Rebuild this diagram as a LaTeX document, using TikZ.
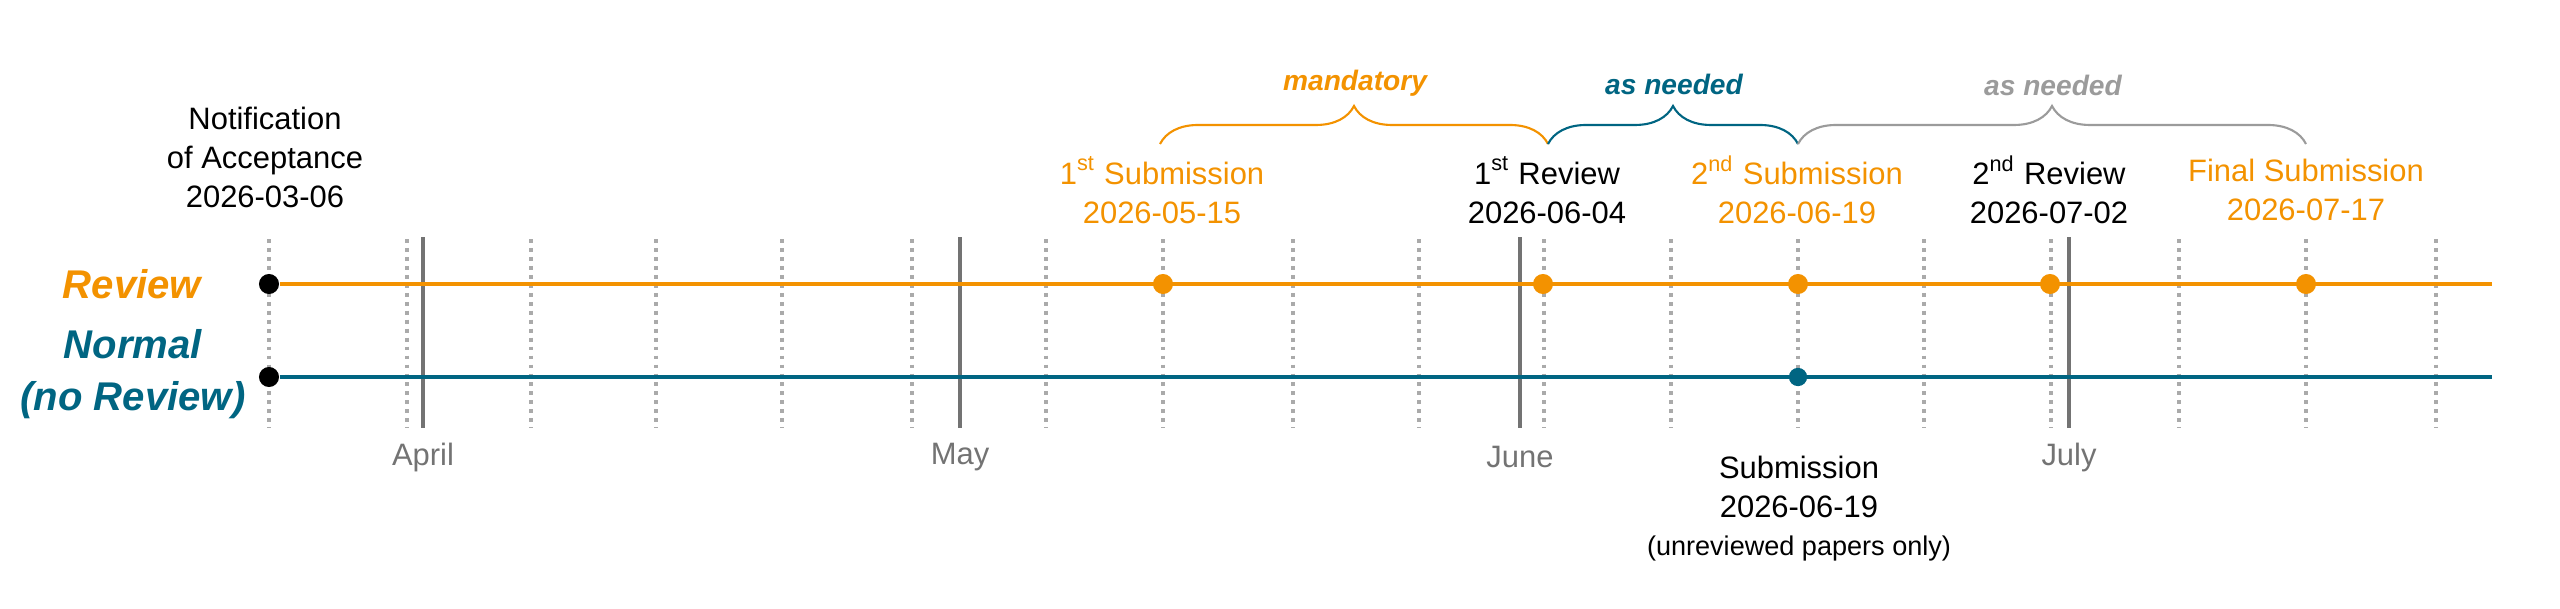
\documentclass[tikz,border=0pt]{standalone}
\usepackage{fontspec}
\setmainfont{Liberation Sans}
\usetikzlibrary{decorations.pathreplacing}

\definecolor{revorange}{RGB}{243,146,0}
\definecolor{normteal}{RGB}{0,101,130}
\definecolor{monthgray}{RGB}{115,115,115}
\definecolor{weekgray}{RGB}{170,170,170}
\definecolor{bracegray}{RGB}{155,155,155}

\tikzset{
  weekline/.style={weekgray, line width=1.1pt, dash pattern=on 1.1pt off 1.45pt},
  monthline/.style={monthgray, line width=1.15pt},
  trackline/.style={line width=1.3pt},
  evdot/.style={circle, fill, inner sep=0pt, minimum size=5.7pt},
  evtext/.style={align=center, font=\fontsize{8.8}{11.1}\selectfont},
  monthtext/.style={monthgray, font=\fontsize{8.8}{11}\selectfont},
  rowtext/.style={align=center, font=\fontsize{11.4}{14.8}\selectfont\bfseries\itshape},
  bracetext/.style={font=\fontsize{8}{10}\selectfont\bfseries\itshape},
  span/.style={line width=0.6pt, decorate, decoration={brace, amplitude=3.8mm}}
}

\begin{document}
\begin{tikzpicture}[x=0.01cm, y=-0.01cm]
    \useasboundingbox (0,0) rectangle (2560,609);

    % weeks and months
    \foreach \wx in {269,407,531,656,782,912,1046,1163,1293,1419,1544,1671,1798,1924,2051,2179,2306,2436}
        \draw[weekline] (\wx,239) -- (\wx,428);
    \foreach \mx/\mname in {423/April,960/May,1520/June,2069/July} {
        \draw[monthline] (\mx,237) -- (\mx,428);
        \node[monthtext] (m\mname) at (\mx,457) {\mname};
    }

    % the two tracks
    \node[rowtext, revorange] (review) at (132,284) {Review};
    \node[rowtext, normteal] (normal) at (133,374) {Normal\\(no Review)};

    \node[evdot, black] (startR) at (269,284) {};
    \node[evdot, black] (startN) at (269,377) {};
    \coordinate (endR) at (2492,284);
    \coordinate (endN) at (2492,377);

    \draw[trackline, revorange] (startR) -- (endR);
    \draw[trackline, normteal] (startN) -- (endN);

    \node[evdot, revorange] (sub1) at (1163,284) {};
    \node[evdot, revorange] (rev1) at (1543,284) {};
    \node[evdot, revorange] (sub2) at (1798,284) {};
    \node[evdot, revorange] (rev2) at (2050,284) {};
    \node[evdot, revorange] (final) at (2306,284) {};
    \node[evdot, normteal, minimum size=5.2pt] (subN) at (1798,377) {};

    % labels
    \node[evtext] (notif) at (265,157) {Notification\\of Acceptance\\2026-03-06};
    \node[evtext, revorange] (sub1txt) at (1162,190) {1\textsuperscript{st} Submission\\2026-05-15};
    \node[evtext] (rev1txt) at (1547,190) {1\textsuperscript{st} Review\\2026-06-04};
    \node[evtext, revorange] (sub2txt) at (1797,190) {2\textsuperscript{nd} Submission\\2026-06-19};
    \node[evtext] (rev2txt) at (2049,190) {2\textsuperscript{nd} Review\\2026-07-02};
    \node[evtext, revorange] (finaltxt) at (2306,190) {Final Submission\\2026-07-17};

    \node[evtext] (subNtxt) at (1799,487) {Submission\\2026-06-19};
    \node[font=\fontsize{7.7}{9}\selectfont] (subNnote) at (1799,548) {(unreviewed papers only)};

    % braces
    \coordinate (b1) at (1160,144);
    \coordinate (b2) at (1548,144);
    \coordinate (b3) at (1798,144);
    \coordinate (b4) at (2306,144);
    \draw[span, revorange] (b1) -- (b2);
    \draw[span, normteal] (b2) -- (b3);
    \draw[span, bracegray] (b3) -- (b4);

    \node[bracetext, revorange] (mand) at (1355,83) {mandatory};
    \node[bracetext, normteal] (need1) at (1674,84) {as needed};
    \node[bracetext, bracegray] (need2) at (2053,85) {as needed};
\end{tikzpicture}
\end{document}
